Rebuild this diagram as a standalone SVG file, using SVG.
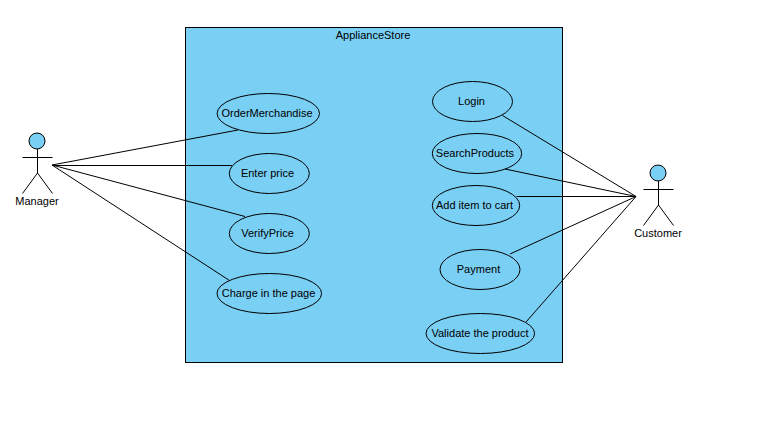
<svg xmlns="http://www.w3.org/2000/svg" width="767" height="427" viewBox="0 0 767 427">
<style>
text{font-family:"Liberation Sans",Arial,sans-serif;font-size:11px;fill:#000;text-anchor:middle}
.b{fill:#7acff5;stroke:#000;stroke-width:1}
.l{fill:none;stroke:#000;stroke-width:1}
</style>
<rect width="767" height="427" fill="#fff"/>
<g id="system"><rect class="b" x="185.500" y="27.500" width="377" height="335"/><text x="373" y="39">ApplianceStore</text></g>
<g id="connectors">
<path class="l" d="M52 165L238 130M52 165.500H232M52 165L245 216.500M52 165L229.500 280.500M636 196.500L502.500 115.500M636 196.500L505 169M636 196.500H516.500M636 196.500L510 254M636 196.500L526 322"/>
</g>
<g id="manager"><circle class="b" cx="37" cy="141" r="8"/><path class="l" d="M37.500 149V173M22.500 157.500H52.500M37.500 173L22.500 193.500M37.500 173L52.500 193.500"/><text x="37" y="205">Manager</text></g>
<g id="customer"><circle class="b" cx="658" cy="173" r="8"/><path class="l" d="M658.500 181V205M643.500 189.500H673.500M658.500 205L643.500 225.500M658.500 205L673.500 225.500"/><text x="658" y="237">Customer</text></g>
<g id="order"><ellipse class="b" cx="268.300" cy="113.500" rx="51.200" ry="20"/><text x="267" y="117">OrderMerchandise</text></g>
<g id="price"><ellipse class="b" cx="269.300" cy="173.500" rx="40" ry="20"/><text x="267.500" y="177">Enter price</text></g>
<g id="verify"><ellipse class="b" cx="269.300" cy="233.500" rx="40" ry="20"/><text x="267.500" y="237">VerifyPrice</text></g>
<g id="charge"><ellipse class="b" cx="269.300" cy="293.500" rx="52.300" ry="20"/><text x="268.500" y="297">Charge in the page</text></g>
<g id="login"><ellipse class="b" cx="472.500" cy="101.500" rx="40" ry="20"/><text x="471.500" y="105">Login</text></g>
<g id="search"><ellipse class="b" cx="477" cy="153.500" rx="44.700" ry="20"/><text x="475" y="157">SearchProducts</text></g>
<g id="cart"><ellipse class="b" cx="476" cy="205.500" rx="43.700" ry="20"/><text x="474.500" y="209">Add item to cart</text></g>
<g id="payment"><ellipse class="b" cx="480" cy="269.500" rx="40" ry="20"/><text x="478.500" y="273">Payment</text></g>
<g id="validate"><ellipse class="b" cx="480.300" cy="333.500" rx="54.300" ry="20"/><text x="480" y="337">Validate the product</text></g>
</svg>
